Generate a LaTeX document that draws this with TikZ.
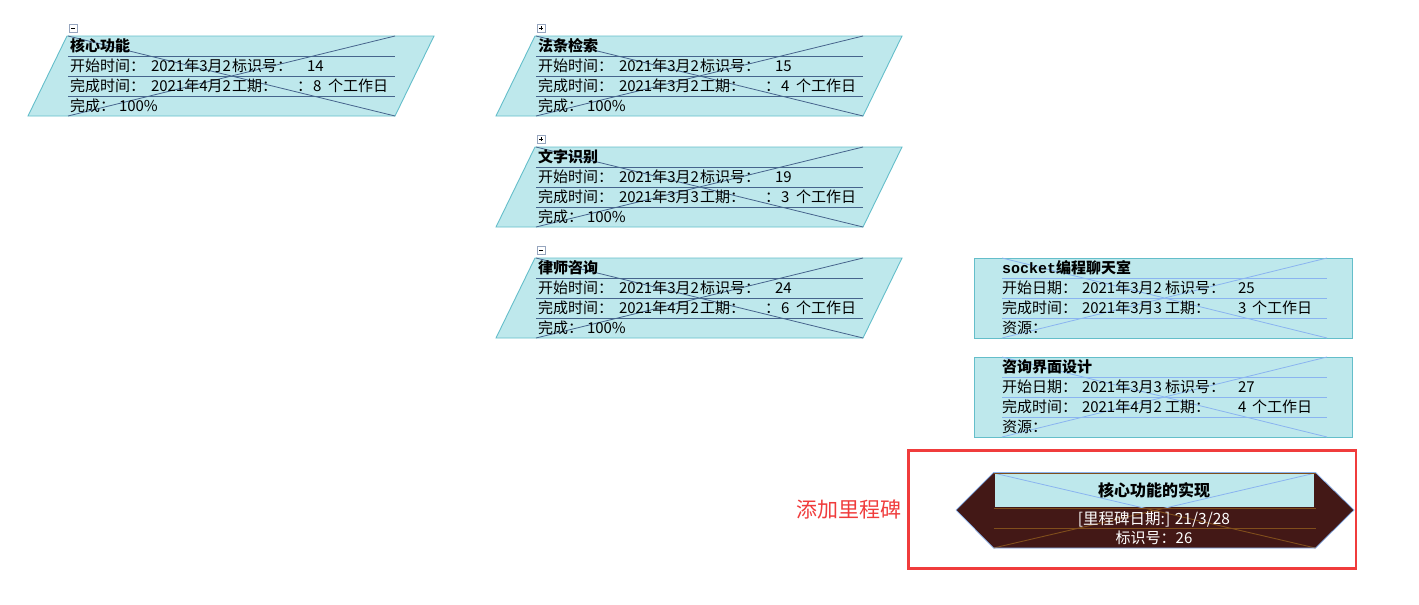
\documentclass[tikz,border=0pt]{standalone}
\usepackage{fontspec}
\newfontfamily\cjk{Noto Sans CJK SC}
\newfontfamily\monofont{Liberation Mono}
\definecolor{boxcyan}{RGB}{190,232,236}
\definecolor{boxborder}{RGB}{100,190,202}
\definecolor{innerdark}{RGB}{70,100,140}
\definecolor{lightblue}{RGB}{138,180,240}
\definecolor{milefill}{RGB}{67,24,22}
\definecolor{milebrown}{RGB}{128,78,28}
\definecolor{redc}{RGB}{240,60,60}
\definecolor{icongray}{RGB}{150,165,190}
\tikzset{
  txt/.style={anchor=base west, inner sep=0pt, outer sep=0pt, text=black,
    font=\cjk\fontsize{15}{18}\selectfont},
  ttl/.style={txt, font=\cjk\bfseries\fontsize{15}{18}\selectfont},
  pshape/.style={fill=boxcyan, draw=boxborder, line width=0.9pt},
  rshape/.style={fill=boxcyan, draw=boxborder, line width=0.9pt},
  darkline/.style={draw=innerdark, line width=0.8pt},
  lightline/.style={draw=lightblue, line width=0.8pt},
  brownline/.style={draw=milebrown, line width=0.9pt},
  iconbox/.style={draw=icongray, fill=white, line width=0.6pt},
  iconsign/.style={draw=black, line width=0.7pt},
}
% #1 name, #2 X, #3 top, #4 title, #5 start, #6 id, #7 end, #8 duration, #9 extra icon code
\newcommand{\mytask}[9]{%
\begin{scope}[shift={(#2,#3)}]
  \path[pshape] (39,0) -- (406,0) -- (367,80) -- (0,80) -- cycle;
  \draw[darkline] (40,20) -- (367,20) (40,40) -- (367,40) (40,60) -- (367,60);
  \draw[darkline] (40,0) -- (367,80) (40,80) -- (367,0);
  \draw[iconbox] (41,-12) rectangle (49,-4);
  \draw[iconsign] (43,-8) -- (47,-8);
  #9
  \node[ttl] (#1-title) at (42,15.5) {#4};
  \node[txt] (#1-s) at (42,35.5) {开始时间：};
  \node[txt] (#1-sd) at (123,35.5) {#5};
  \node[txt] (#1-idl) at (204,35.5) {标识号：};
  \node[txt] (#1-id) at (279,35.5) {#6};
  \node[txt] (#1-e) at (42,55.5) {完成时间：};
  \node[txt] (#1-ed) at (123,55.5) {#7};
  \node[txt] (#1-gq) at (204,55.5) {工期：};
  \node[txt] (#1-c) at (269,55.5) {：};
  \node[txt] (#1-d) at (285,55.5) {#8};
  \node[txt] (#1-u) at (300,55.5) {个工作日};
  \node[txt] (#1-p) at (42,75.5) {完成：};
  \node[txt] (#1-pv) at (91,75.5) {100\%};
\end{scope}}
% #1 name, #2 L, #3 top, #4 title, #5 start, #6 id, #7 end, #8 duration
\newcommand{\myres}[8]{%
\begin{scope}[shift={(#2,#3)}]
  \path[rshape] (0,0) rectangle (378,80);
  \draw[lightline] (28,20) -- (353,20) (28,40) -- (353,40) (28,60) -- (353,60);
  \draw[lightline] (28,0) -- (353,80) (28,80) -- (353,0);
  \node[ttl] (#1-title) at (28,15.5) {#4};
  \node[txt] (#1-s) at (28,35.5) {开始日期：};
  \node[txt] (#1-sd) at (108,35.5) {#5};
  \node[txt] (#1-idl) at (191,35.5) {标识号：};
  \node[txt] (#1-id) at (264,35.5) {#6};
  \node[txt] (#1-e) at (28,55.5) {完成时间：};
  \node[txt] (#1-ed) at (108,55.5) {#7};
  \node[txt] (#1-gq) at (191,55.5) {工期：};
  \node[txt] (#1-d) at (264,55.5) {#8};
  \node[txt] (#1-u) at (278,55.5) {个工作日};
  \node[txt] (#1-r) at (28,75.5) {资源：};
\end{scope}}
\begin{document}
\begin{tikzpicture}[x=1pt,y=-1pt]
\useasboundingbox[fill=white] (0,0) rectangle (1419,605);

\mytask{t1}{28}{36}{核心功能}{2021年3月2}{14}{2021年4月2}{8}{}
\mytask{t2}{496}{36}{法条检索}{2021年3月2}{15}{2021年3月2}{4}{\draw[iconsign] (45,-10) -- (45,-6);}
\mytask{t3}{496}{147}{文字识别}{2021年3月2}{19}{2021年3月3}{3}{\draw[iconsign] (45,-10) -- (45,-6);}
\mytask{t4}{496}{258}{律师咨询}{2021年3月2}{24}{2021年4月2}{6}{}

\myres{r1}{974}{258}{{\monofont\bfseries socket}编程聊天室}{2021年3月2}{25}{2021年3月3}{3}
\myres{r2}{974}{357}{咨询界面设计}{2021年3月3}{27}{2021年4月2}{4}

% milestone
\path[fill=milefill] (956,510) -- (993.5,472.5) -- (1315.5,472.5) -- (1354,510) -- (1315.5,548) -- (993.5,548) -- cycle;
\draw[brownline] (993.5,473) -- (1315.5,548) (993.5,548) -- (1315.5,473);
\path[fill=boxcyan] (995,474) rectangle (1314,507);
\begin{scope}
  \clip (995,474) rectangle (1314,507);
  \draw[lightline] (993.5,473) -- (1315.5,548) (993.5,548) -- (1315.5,473);
\end{scope}
\draw[brownline] (993.5,473.5) -- (1315.5,473.5);
\draw[brownline] (993.5,508.3) -- (1315.5,508.3) (993.5,528.3) -- (1315.5,528.3);
\draw[draw=lightblue, line width=0.7pt] (956,510) -- (993.5,472.5) -- (1315.5,472.5) -- (1354,510) -- (1315.5,548) -- (993.5,548) -- cycle;
\node[anchor=base, inner sep=0pt, font=\cjk\bfseries\fontsize{16}{19}\selectfont, text=black] (m-title) at (1154,496) {核心功能的实现};
\node[anchor=base, inner sep=0pt, font=\cjk\fontsize{15.5}{18}\selectfont, text=white] (m-date) at (1154,524) {[里程碑日期:] 21/3/28};
\node[anchor=base, inner sep=0pt, font=\cjk\fontsize{15}{18}\selectfont, text=white] (m-id) at (1154,543) {标识号：26};

% annotation
\draw[draw=redc, line width=2.7pt] (908.5,450.7) rectangle (1356,568.7);
\node[anchor=base west, inner sep=0pt, font=\cjk\fontsize{21}{24}\selectfont, text=redc] (note) at (796,517.5) {添加里程碑};
\end{tikzpicture}
\end{document}
